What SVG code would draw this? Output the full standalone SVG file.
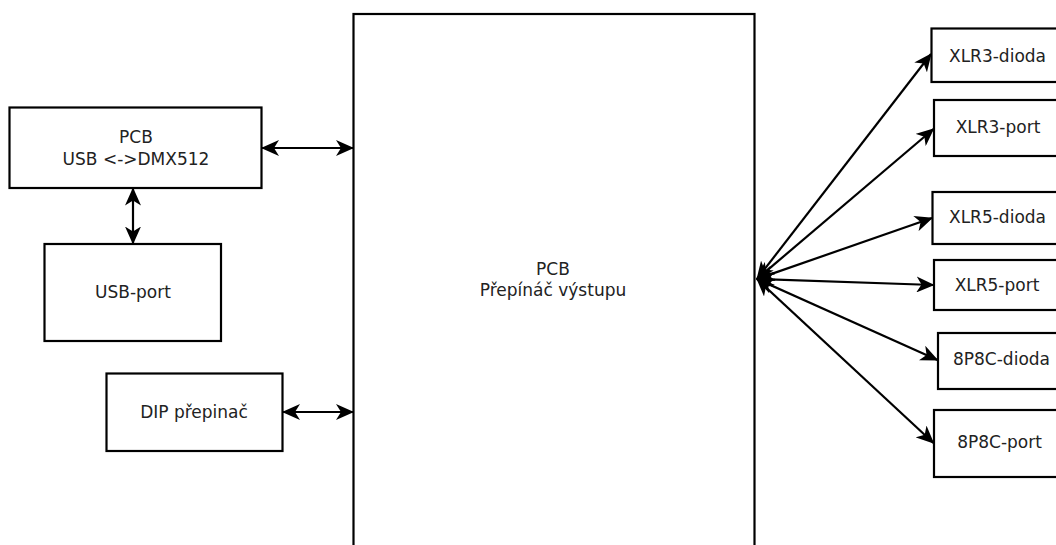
<svg xmlns="http://www.w3.org/2000/svg" width="1056" height="545" viewBox="0 0 1056 545">
<style>
.box{fill:#fff;stroke:#000;stroke-width:2.2}
.lbl{font-family:"DejaVu Sans",sans-serif;font-size:17px;fill:#222;text-anchor:middle}
.con{stroke:#000;stroke-width:2.2;fill:none;marker-start:url(#ah);marker-end:url(#ah)}
</style>
<defs>
<marker id="ah" markerUnits="userSpaceOnUse" markerWidth="18" markerHeight="16" refX="17" refY="8" orient="auto-start-reverse" viewBox="0 0 18 16">
<path d="M0,0 L18,8 L0,16 L5,8 z" fill="#000"/>
</marker>
</defs>
<rect width="1056" height="545" fill="#fff"/>
<g id="main"><rect class="box" x="353.5" y="14" width="401" height="540"/>
<text class="lbl" x="553" y="275">PCB</text><text class="lbl" x="553" y="296">Přepínáč výstupu</text></g>
<g id="usbdmx"><rect class="box" x="9.5" y="107.5" width="252" height="80.5"/>
<text class="lbl" x="136" y="143">PCB</text><text class="lbl" x="136" y="164.5">USB &lt;-&gt;DMX512</text></g>
<g id="usbport"><rect class="box" x="44.5" y="244" width="176.5" height="97"/>
<text class="lbl" x="133" y="298">USB-port</text></g>
<g id="dip"><rect class="box" x="106.5" y="373.5" width="176" height="77.5"/>
<text class="lbl" x="194" y="418">DIP přepinač</text></g>
<g id="xlr3d"><rect class="box" x="931.5" y="28.5" width="140" height="53.5"/>
<text class="lbl" x="997.5" y="61.5">XLR3-dioda</text></g>
<g id="xlr3p"><rect class="box" x="934" y="100" width="140" height="56"/>
<text class="lbl" x="998" y="133">XLR3-port</text></g>
<g id="xlr5d"><rect class="box" x="932.5" y="192" width="140" height="52"/>
<text class="lbl" x="997.5" y="223">XLR5-dioda</text></g>
<g id="xlr5p"><rect class="box" x="934" y="260" width="140" height="50"/>
<text class="lbl" x="997" y="291">XLR5-port</text></g>
<g id="p8d"><rect class="box" x="938" y="333" width="140" height="56"/>
<text class="lbl" x="1001.5" y="365">8P8C-dioda</text></g>
<g id="p8p"><rect class="box" x="934" y="410" width="140" height="67"/>
<text class="lbl" x="999.5" y="448">8P8C-port</text></g>
<g id="connectors">
<line class="con" x1="262" y1="148" x2="353" y2="148"/>
<line class="con" x1="133" y1="188.5" x2="133" y2="243.5"/>
<line class="con" x1="283" y1="412" x2="353" y2="412"/>
<line class="con" x1="757" y1="279" x2="931" y2="54"/>
<line class="con" x1="757" y1="279" x2="933.5" y2="129"/>
<line class="con" x1="757" y1="279" x2="932" y2="218"/>
<line class="con" x1="757" y1="279" x2="933.5" y2="285"/>
<line class="con" x1="757" y1="279" x2="937.5" y2="360"/>
<line class="con" x1="757" y1="279" x2="933.5" y2="443"/>
</g>
</svg>
